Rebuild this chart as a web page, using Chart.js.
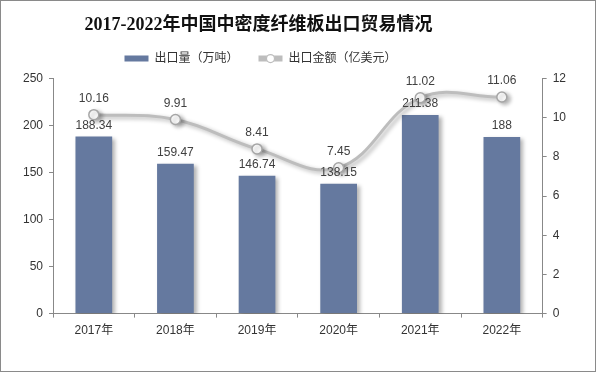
<!DOCTYPE html>
<html>
<head>
<meta charset="utf-8">
<script src="https://cdn.jsdelivr.net/npm/chart.js@4/dist/chart.umd.min.js"></script>
<style>
  html, body { margin: 0; padding: 0; background: #fff; }
  #wrap { width: 596px; height: 372px; position: relative; }
</style>
</head>
<body>
<div id="wrap"><canvas id="chart" width="596" height="372"></canvas></div>
<script>
/* ─── Data ─────────────────────────────────────────────────────────────── */
const years = ['2017年', '2018年', '2019年', '2020年', '2021年', '2022年'];
const exportVolume = [188.34, 159.47, 146.74, 138.15, 211.38, 188];   // 万吨
const exportValue  = [10.16, 9.91, 8.41, 7.45, 11.02, 11.06];         // 亿美元
const leftTicks  = [0, 50, 100, 150, 200, 250];
const rightTicks = [0, 2, 4, 6, 8, 10, 12];

const FONT = "Arial, 'Liberation Sans', 'Noto Sans CJK SC', sans-serif";
const BAR_COLOR  = '#65799f';
const LINE_COLOR = '#bdbdbd';

/* ─── Plugins ──────────────────────────────────────────────────────────── */
// soft drop shadow under bars and line
const shadowPlugin = {
  id: 'shadow',
  beforeDatasetDraw(chart) {
    const c = chart.ctx;
    c.save();
    c.shadowColor = 'rgba(0,0,0,0.3)';
    c.shadowBlur = 4;
    c.shadowOffsetX = 3;
    c.shadowOffsetY = 2;
  },
  afterDatasetDraw(chart) {
    chart.ctx.restore();
  }
};

// title and legend sit a bit left of centre in the original
const headerShift = {
  id: 'headerShift',
  afterLayout(chart) {
    const move = (b, dx, dy) => {
      if (!b) return;
      b.left += dx; b.right += dx;
      b.top += dy; b.bottom += dy;
    };
    move(chart.titleBlock, -36, 10);
    move(chart.legend, -34, -4);
  }
};

// value labels above bars / points
const valueLabels = {
  id: 'valueLabels',
  afterDatasetsDraw(chart) {
    const c = chart.ctx;
    c.save();
    c.font = '12px ' + FONT;
    c.fillStyle = '#404040';
    c.textAlign = 'center';
    c.textBaseline = 'bottom';
    chart.data.datasets.forEach((ds, i) => {
      const meta = chart.getDatasetMeta(i);
      meta.data.forEach((el, j) => {
        const off = ds.type === 'line' ? 10 : 5;
        c.fillText(String(ds.data[j]), el.x, el.y - off);
      });
    });
    c.restore();
  }
};

// little circle on the line legend item + outer frame
const decor = {
  id: 'decor',
  afterDraw(chart) {
    const c = chart.ctx;
    const boxes = chart.legend.legendHitBoxes;
    if (boxes && boxes[1]) {
      const b = boxes[1];
      const cx = b.left + 12, cy = b.top + b.height / 2;
      c.save();
      c.beginPath();
      c.arc(cx, cy, 4, 0, Math.PI * 2);
      c.fillStyle = '#fff';
      c.fill();
      c.lineWidth = 1.2;
      c.strokeStyle = LINE_COLOR;
      c.stroke();
      c.restore();
    }
    c.save();
    c.strokeStyle = '#8a8a8a';
    c.lineWidth = 1;
    c.strokeRect(0.5, 0.5, chart.width - 1, chart.height - 1);
    c.restore();
  }
};

/* ─── Chart ────────────────────────────────────────────────────────────── */
new Chart(document.getElementById('chart'), {
  data: {
    labels: years,
    datasets: [
      {
        type: 'line',
        label: '出口金额（亿美元）',
        data: exportValue,
        yAxisID: 'y1',
        borderColor: LINE_COLOR,
        backgroundColor: LINE_COLOR,
        borderWidth: 3,
        tension: 0.4,
        pointRadius: 5,
        pointBorderWidth: 1.5,
        pointBackgroundColor: '#fff',
        pointBorderColor: '#a6a6a6',
        order: 0
      },
      {
        type: 'bar',
        label: '出口量（万吨）',
        data: exportVolume,
        yAxisID: 'y',
        backgroundColor: BAR_COLOR,
        categoryPercentage: 0.9,
        barPercentage: 0.5,
        order: 1
      }
    ]
  },
  options: {
    responsive: false,
    animation: false,
    layout: { padding: { left: 17, right: 24, top: 1, bottom: 28 } },
    plugins: {
      title: {
        display: true,
        text: '2017-2022年中国中密度纤维板出口贸易情况',
        color: '#111',
        font: { family: "'Liberation Serif', 'Noto Sans CJK SC', serif", size: 18, weight: 'bold' },
        padding: { top: 4, bottom: 10 }
      },
      legend: {
        position: 'top',
        reverse: true,
        labels: {
          color: '#333',
          font: { family: FONT, size: 12 },
          boxWidth: 24,
          boxHeight: 6,
          padding: 20,
          generateLabels(chart) {
            return chart.data.datasets.map((ds, i) => ({
              text: ds.label,
              fillStyle: ds.type === 'line' ? LINE_COLOR : BAR_COLOR,
              strokeStyle: ds.type === 'line' ? LINE_COLOR : BAR_COLOR,
              lineWidth: 0,
              datasetIndex: i,
              fontColor: '#333'
            }));
          }
        }
      },
      tooltip: { enabled: false }
    },
    scales: {
      x: {
        ticks: { color: '#333', font: { family: FONT, size: 12 }, padding: 6 },
        grid: { drawOnChartArea: false, drawTicks: true, tickLength: 4, color: '#888', offset: true },
        border: { color: '#888' }
      },
      y: {
        position: 'left',
        min: 0, max: 250,
        afterBuildTicks: axis => { axis.ticks = leftTicks.map(v => ({ value: v })); },
        ticks: { color: '#333', font: { family: FONT, size: 12 }, padding: 6 },
        grid: { drawOnChartArea: false, drawTicks: true, tickLength: 4, color: '#888' },
        border: { color: '#888' }
      },
      y1: {
        position: 'right',
        min: 0, max: 12,
        afterBuildTicks: axis => { axis.ticks = rightTicks.map(v => ({ value: v })); },
        ticks: { color: '#333', font: { family: FONT, size: 12 }, padding: 6 },
        grid: { drawOnChartArea: false, drawTicks: true, tickLength: 4, color: '#888' },
        border: { color: '#888' }
      }
    }
  },
  plugins: [shadowPlugin, headerShift, valueLabels, decor]
});
</script>
</body>
</html>
